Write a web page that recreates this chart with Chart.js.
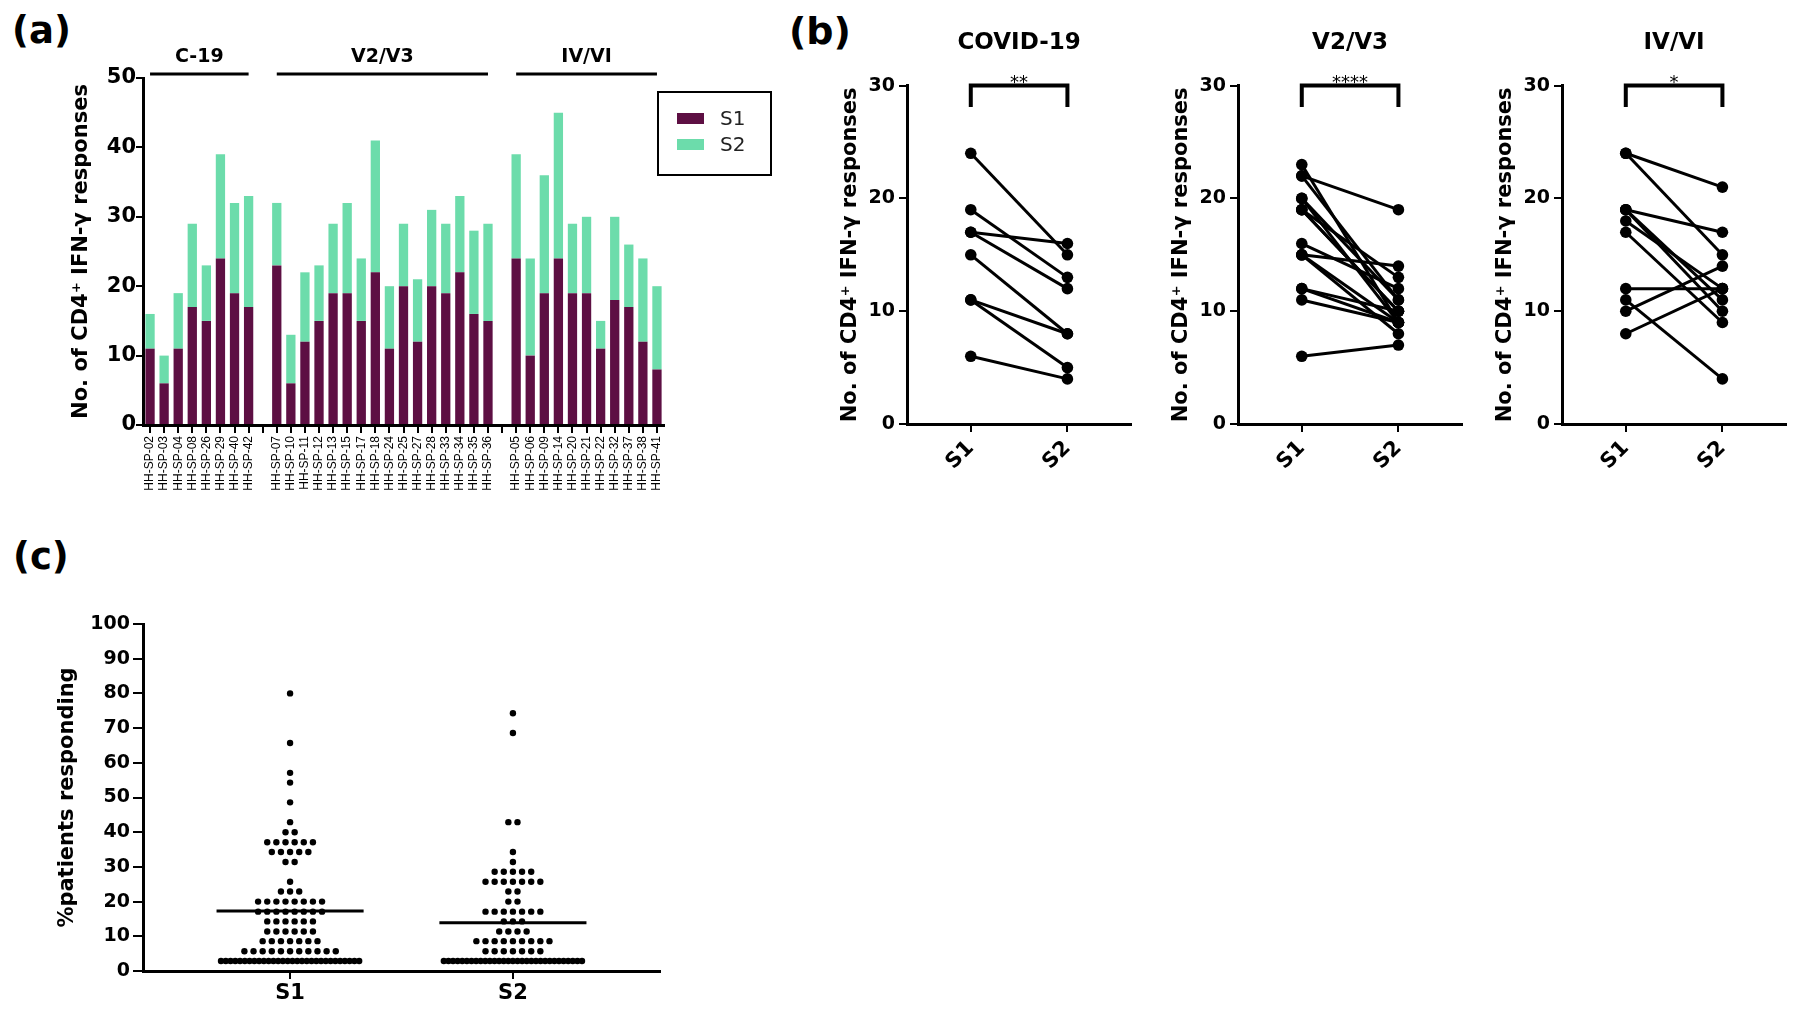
<!DOCTYPE html>
<html>
<head>
<meta charset="utf-8">
<script src="https://cdn.jsdelivr.net/npm/chart.js@4.4.1/dist/chart.umd.min.js"></script>
<style>
  html, body { margin: 0; padding: 0; background: #fff; }
  body { width: 1794px; height: 1009px; position: relative; overflow: hidden; }
  canvas { position: absolute; }
  .tag { position: absolute; font: bold 37px "DejaVu Sans", sans-serif; line-height: 1; color: #000; }
  .legend { position: absolute; left: 657px; top: 91px; width: 111px; height: 81px; border: 2px solid #000; }
  .legend .sw { position: absolute; left: 18px; width: 27px; height: 11px; }
  .legend .lb { position: absolute; left: 61px; font: 20px "DejaVu Sans", sans-serif; color: #222; line-height: 1; }
</style>
</head>
<body>
<div class="tag" style="left:12px;top:12px">(a)</div>
<div class="tag" style="left:789px;top:12px;font-size:38px">(b)</div>
<div class="tag" style="left:13px;top:538px">(c)</div>

<canvas id="chartA" width="630" height="470" style="left:50px;top:40px"></canvas>
<div class="legend">
  <div class="sw" style="top:20px;background:#5d0f43"></div><div class="lb" style="top:15px">S1</div>
  <div class="sw" style="top:46px;background:#6cdcab"></div><div class="lb" style="top:41px">S2</div>
</div>

<canvas id="chartB0" width="315" height="490" style="left:822px;top:0px"></canvas>
<canvas id="chartB1" width="315" height="490" style="left:1153px;top:0px"></canvas>
<canvas id="chartB2" width="315" height="490" style="left:1477px;top:0px"></canvas>

<canvas id="chartC" width="620" height="419" style="left:50px;top:590px"></canvas>

<script>
const FONT = '"DejaVu Sans", sans-serif';
const LABEL_FONT = '"Liberation Sans", Arial, sans-serif';
const S1_COLOUR = "#5d0f43";
const S2_COLOUR = "#6cdcab";
const Y_TITLE = "No. of CD4\u207A IFN-\u03B3 responses";

// groups of patients
const groupNames = ["C-19", "V2/V3", "IV/VI"];
const groupTitles = ["COVID-19", "V2/V3", "IV/VI"];
const groupStars = ["**", "****", "*"];
const sampleNames = ["S1", "S2"];

const c19Ids = ["HH-SP-02", "HH-SP-03", "HH-SP-04", "HH-SP-08", "HH-SP-26", "HH-SP-29", "HH-SP-40", "HH-SP-42"];
const c19S1 = [11, 6, 11, 17, 15, 24, 19, 17];
const c19S2 = [5, 4, 8, 12, 8, 15, 13, 16];

const v23Ids = ["HH-SP-07", "HH-SP-10", "HH-SP-11", "HH-SP-12", "HH-SP-13", "HH-SP-15", "HH-SP-17", "HH-SP-18",
  "HH-SP-24", "HH-SP-25", "HH-SP-27", "HH-SP-28", "HH-SP-33", "HH-SP-34", "HH-SP-35", "HH-SP-36"];
const v23S1 = [23, 6, 12, 15, 19, 19, 15, 22, 11, 20, 12, 20, 19, 22, 16, 15];
const v23S2 = [9, 7, 10, 8, 10, 13, 9, 19, 9, 9, 9, 11, 10, 11, 12, 14];

const ivviIds = ["HH-SP-05", "HH-SP-06", "HH-SP-09", "HH-SP-14", "HH-SP-20", "HH-SP-21", "HH-SP-22", "HH-SP-32",
  "HH-SP-37", "HH-SP-38", "HH-SP-41"];
const ivviS1 = [24, 10, 19, 24, 19, 19, 11, 18, 17, 12, 8];
const ivviS2 = [15, 14, 17, 21, 10, 11, 4, 12, 9, 12, 12];

// panel (c): % of patients responding per peptide, dots per level
const responseLevels = [2.9, 5.7, 8.6, 11.4, 14.3, 17.1, 20.0, 22.9, 25.7, 28.6, 31.4, 34.3, 37.1, 40.0,
  42.9, 48.6, 54.3, 57.1, 65.7, 68.6, 74.3, 80.0];
const s1DotCounts = [30, 11, 7, 6, 6, 8, 8, 3, 1, 0, 2, 5, 6, 2, 1, 1, 1, 1, 1, 0, 0, 1];
const s2DotCounts = [31, 7, 9, 4, 3, 7, 2, 2, 7, 5, 1, 1, 0, 0, 2, 0, 0, 0, 0, 1, 1, 0];
const centreLines = [17.3, 13.9];

const groupIds = [c19Ids, v23Ids, ivviIds];
const groupS1 = [c19S1, v23S1, ivviS1];
const groupS2 = [c19S2, v23S2, ivviS2];

const COLUMN_RANGE = { min: 0.34, max: 2.66 };

const axisBorder = { color: "#000", width: 3 };
const tickGrid = (len) => ({ drawOnChartArea: false, color: "#000", lineWidth: 2, tickLength: len });
const boldFont = (size) => ({ family: FONT, size, weight: "bold" });

// ---------- (a) stacked bars ----------
const barLabels = [];
const barS1 = [];
const barS2 = [];
groupIds.forEach((ids, g) => {
  if (g > 0) {
    barLabels.push("");
    barS1.push(null);
    barS2.push(null);
  }
  barLabels.push(...ids);
  barS1.push(...groupS1[g]);
  barS2.push(...groupS2[g]);
});

const groupHeaders = {
  id: "groupHeaders",
  afterDraw(chart) {
    const { ctx, chartArea } = chart;
    const x = chart.scales.x;
    let start = 0;
    ctx.save();
    ctx.strokeStyle = "#000";
    ctx.fillStyle = "#000";
    ctx.lineWidth = 3;
    ctx.font = `bold 19px ${FONT}`;
    ctx.textAlign = "center";
    ctx.textBaseline = "middle";
    groupIds.forEach((ids, g) => {
      const end = start + ids.length - 1;
      const x0 = x.getPixelForValue(start);
      const x1 = x.getPixelForValue(end);
      ctx.beginPath();
      ctx.moveTo(x0, chartArea.top - 4);
      ctx.lineTo(x1, chartArea.top - 4);
      ctx.stroke();
      ctx.fillText(groupNames[g], (x0 + x1) / 2, chartArea.top - 21);
      start = end + 2;
    });
    ctx.restore();
  },
};

new Chart(document.getElementById("chartA"), {
  type: "bar",
  data: {
    labels: barLabels,
    datasets: [
      { label: "S1", data: barS1, backgroundColor: S1_COLOUR },
      { label: "S2", data: barS2, backgroundColor: S2_COLOUR },
    ],
  },
  options: {
    responsive: false,
    animation: false,
    layout: { padding: { top: 38, right: 16 } },
    datasets: { bar: { barPercentage: 0.66, categoryPercentage: 1 } },
    plugins: { legend: { display: false }, tooltip: { enabled: false } },
    scales: {
      x: {
        stacked: true,
        afterFit: (s) => { s.height = 85; },
        border: axisBorder,
        grid: { ...tickGrid(8), offset: false },
        ticks: {
          autoSkip: false,
          minRotation: 90,
          maxRotation: 90,
          padding: 3,
          color: "#000",
          font: { family: LABEL_FONT, size: 12 },
        },
      },
      y: {
        stacked: true,
        min: 0,
        max: 50,
        afterFit: (s) => { s.width = 93; },
        border: axisBorder,
        grid: tickGrid(7),
        ticks: { stepSize: 10, padding: 0, color: "#000", font: boldFont(21) },
        title: { display: true, text: Y_TITLE, padding: { top: 19 }, color: "#000", font: boldFont(21) },
      },
    },
  },
  plugins: [groupHeaders],
});

// ---------- (b) paired S1 -> S2 ----------
const sigBracket = {
  id: "sigBracket",
  afterDraw(chart, args, opts) {
    const { ctx } = chart;
    const { x, y } = chart.scales;
    const x0 = x.getPixelForValue(1);
    const x1 = x.getPixelForValue(2);
    const yTop = y.getPixelForValue(y.max);
    const yLeg = y.getPixelForValue(y.max * 0.937);
    ctx.save();
    ctx.strokeStyle = "#000";
    ctx.lineWidth = 4;
    ctx.beginPath();
    ctx.moveTo(x0, yLeg);
    ctx.lineTo(x0, yTop);
    ctx.lineTo(x1, yTop);
    ctx.lineTo(x1, yLeg);
    ctx.stroke();
    ctx.fillStyle = "#000";
    ctx.font = `18px ${FONT}`;
    ctx.textAlign = "center";
    ctx.textBaseline = "alphabetic";
    ctx.fillText(opts.text, (x0 + x1) / 2, yTop + 2);
    ctx.restore();
  },
};

function pairedChart(canvasId, g) {
  const s1 = groupS1[g];
  const s2 = groupS2[g];
  return new Chart(document.getElementById(canvasId), {
    type: "line",
    data: {
      datasets: s1.map((v, i) => ({
        data: [{ x: 1, y: v }, { x: 2, y: s2[i] }],
        borderColor: "#000",
        backgroundColor: "#000",
        borderWidth: 3,
        pointRadius: 5.8,
        pointHoverRadius: 5.8,
        pointBorderWidth: 0,
        clip: false,
      })),
    },
    options: {
      responsive: false,
      animation: false,
      layout: { padding: { right: 4 } },
      plugins: {
        legend: { display: false },
        tooltip: { enabled: false },
        title: {
          display: true,
          text: groupTitles[g],
          fullSize: false,
          padding: { top: 29, bottom: 29 },
          color: "#000",
          font: boldFont(23),
        },
        sigBracket: { text: groupStars[g] },
      },
      scales: {
        x: {
          type: "linear",
          ...COLUMN_RANGE,
          afterBuildTicks: (s) => { s.ticks = sampleNames.map((n, i) => ({ value: i + 1 })); },
          afterFit: (s) => { s.height = 66; },
          border: axisBorder,
          grid: tickGrid(8),
          ticks: {
            callback: (v, i) => sampleNames[i],
            minRotation: 45,
            maxRotation: 45,
            padding: 4,
            color: "#000",
            font: boldFont(21),
          },
        },
        y: {
          min: 0,
          max: 30,
          afterFit: (s) => { s.width = 85; },
          border: axisBorder,
          grid: tickGrid(8),
          ticks: { stepSize: 10, padding: 4, color: "#000", font: boldFont(19) },
          title: { display: true, text: Y_TITLE, padding: { top: 16 }, color: "#000", font: boldFont(21) },
        },
      },
    },
    plugins: [sigBracket],
  });
}

groupTitles.forEach((t, g) => pairedChart("chartB" + g, g));

// ---------- (c) dot plot ----------
const DOT_STEP = 0.041;
const MAX_ROW = 0.62;
const LINE_HALF = 0.33;

function swarm(levels, counts, centre) {
  const pts = [];
  levels.forEach((y, r) => {
    const n = counts[r];
    if (!n) return;
    const step = n > 1 ? Math.min(DOT_STEP, MAX_ROW / (n - 1)) : 0;
    for (let k = 0; k < n; k++) {
      pts.push({ x: centre + (k - (n - 1) / 2) * step, y });
    }
  });
  return pts;
}

const lineSet = (col) => ({
  data: [
    { x: col + 1 - LINE_HALF, y: centreLines[col] },
    { x: col + 1 + LINE_HALF, y: centreLines[col] },
  ],
  showLine: true,
  borderColor: "#000",
  borderWidth: 3,
  pointRadius: 0,
});

const dotSet = (counts, col) => ({
  data: swarm(responseLevels, counts, col + 1),
  backgroundColor: "#000",
  borderWidth: 0,
  pointRadius: 3.2,
  pointHoverRadius: 3.2,
  clip: false,
});

new Chart(document.getElementById("chartC"), {
  type: "scatter",
  data: {
    datasets: [lineSet(0), lineSet(1), dotSet(s1DotCounts, 0), dotSet(s2DotCounts, 1)],
  },
  options: {
    responsive: false,
    animation: false,
    layout: { padding: { top: 34, right: 10 } },
    plugins: { legend: { display: false }, tooltip: { enabled: false } },
    scales: {
      x: {
        type: "linear",
        ...COLUMN_RANGE,
        afterBuildTicks: (s) => { s.ticks = sampleNames.map((n, i) => ({ value: i + 1 })); },
        afterFit: (s) => { s.height = 38; },
        border: axisBorder,
        grid: tickGrid(8),
        ticks: { callback: (v, i) => sampleNames[i], maxRotation: 0, padding: 2, color: "#000", font: boldFont(21) },
      },
      y: {
        min: 0,
        max: 100,
        afterFit: (s) => { s.width = 93; },
        border: axisBorder,
        grid: tickGrid(10),
        ticks: { stepSize: 10, padding: 3, color: "#000", font: boldFont(19) },
        title: { display: true, text: "%patients responding", padding: { top: 5 }, color: "#000", font: boldFont(21) },
      },
    },
  },
});
</script>
</body>
</html>
